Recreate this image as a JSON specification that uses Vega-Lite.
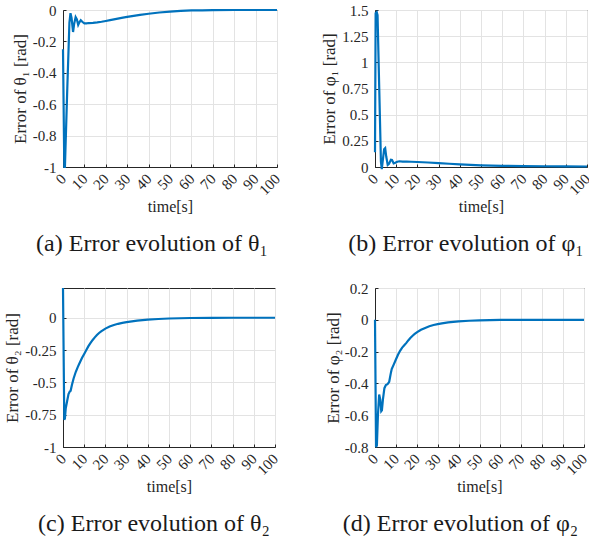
{
  "$schema": "https://vega.github.io/schema/vega-lite/v6.json",
  "background": "white",
  "padding": {"left": 2, "top": 2, "right": 0, "bottom": 0},
  "config": {
    "font": "Liberation Serif",
    "view": {"stroke": "#262626", "strokeWidth": 1},
    "axis": {
      "labelFont": "Liberation Serif", "labelFontSize": 15, "labelColor": "#262626",
      "titleFont": "Liberation Serif", "titleFontSize": 16, "titleFontWeight": "normal", "titleColor": "#262626",
      "domainColor": "#262626", "tickColor": "#262626", "gridColor": "#e3e3e3",
      "tickSize": -3, "labelFlush": false, "labelOverlap": false,
      "labelExpr": "replace(format(datum.value, '~g'), '−', '-')"
    },
    "axisX": {"labelAngle": -45, "labelAlign": "right", "labelBaseline": "middle", "labelPadding": 12, "titleBaseline": "middle", "titleY": 39},
    "axisY": {"labelPadding": 10, "titleBaseline": "middle", "titleAngle": -90, "titleAlign": "center", "titleFontSize": 17},
    "title": {"font": "Liberation Serif", "fontSize": 24, "fontWeight": "normal", "color": "#1a1a1a", "orient": "bottom", "frame": "group", "offset": 18},
    "line": {"color": "#0072BD", "strokeWidth": 2.2, "clip": true}
  },
  "datasets": {
    "theta1": [
      {"t": 0, "e": -0.25}, {"t": 0.6, "e": -1}, {"t": 0.9, "e": -1}, {"t": 2.0, "e": -0.5}, {"t": 3.0, "e": -0.08},
      {"t": 3.5, "e": -0.02}, {"t": 4.0, "e": -0.05}, {"t": 4.7, "e": -0.14}, {"t": 5.2, "e": -0.09}, {"t": 5.9, "e": -0.045},
      {"t": 6.5, "e": -0.06}, {"t": 7.1, "e": -0.095}, {"t": 7.6, "e": -0.08}, {"t": 8.3, "e": -0.065}, {"t": 9.0, "e": -0.075},
      {"t": 10, "e": -0.085}, {"t": 11, "e": -0.085}, {"t": 12, "e": -0.083}, {"t": 14, "e": -0.082}, {"t": 16, "e": -0.079},
      {"t": 18, "e": -0.075}, {"t": 20, "e": -0.07}, {"t": 22, "e": -0.065}, {"t": 25, "e": -0.057}, {"t": 28, "e": -0.049},
      {"t": 30, "e": -0.044}, {"t": 33, "e": -0.037}, {"t": 36, "e": -0.031}, {"t": 40, "e": -0.024}, {"t": 45, "e": -0.016},
      {"t": 50, "e": -0.01}, {"t": 55, "e": -0.006}, {"t": 60, "e": -0.003}, {"t": 65, "e": -0.002}, {"t": 70, "e": -0.001},
      {"t": 80, "e": 0}, {"t": 90, "e": 0}, {"t": 100, "e": 0}
    ],
    "phi1": [
      {"t": 0, "e": 0.14}, {"t": 0.3, "e": 1.47}, {"t": 0.8, "e": 1.48}, {"t": 1.2, "e": 1.45}, {"t": 2.0, "e": 0.75},
      {"t": 2.8, "e": 0.05}, {"t": 3.2, "e": -0.02}, {"t": 3.6, "e": 0.05}, {"t": 4.3, "e": 0.17}, {"t": 4.8, "e": 0.18},
      {"t": 5.3, "e": 0.1}, {"t": 6.0, "e": 0.02}, {"t": 6.6, "e": 0.03}, {"t": 7.5, "e": 0.07}, {"t": 8.0, "e": 0.068},
      {"t": 8.8, "e": 0.035}, {"t": 9.6, "e": 0.04}, {"t": 10.5, "e": 0.05}, {"t": 11.5, "e": 0.055}, {"t": 13, "e": 0.052},
      {"t": 15, "e": 0.052}, {"t": 17, "e": 0.05}, {"t": 20, "e": 0.048}, {"t": 25, "e": 0.043}, {"t": 30, "e": 0.037},
      {"t": 35, "e": 0.031}, {"t": 40, "e": 0.025}, {"t": 45, "e": 0.02}, {"t": 50, "e": 0.016}, {"t": 55, "e": 0.013},
      {"t": 60, "e": 0.011}, {"t": 70, "e": 0.008}, {"t": 80, "e": 0.007}, {"t": 90, "e": 0.006}, {"t": 100, "e": 0.005}
    ],
    "theta2": [
      {"t": 0, "e": 0.23}, {"t": 0.6, "e": -0.79}, {"t": 0.9, "e": -0.78}, {"t": 1.3, "e": -0.7}, {"t": 2, "e": -0.64},
      {"t": 2.6, "e": -0.59}, {"t": 3.2, "e": -0.57}, {"t": 3.6, "e": -0.565}, {"t": 4.2, "e": -0.52}, {"t": 5, "e": -0.47},
      {"t": 6, "e": -0.42}, {"t": 7, "e": -0.38}, {"t": 8, "e": -0.345}, {"t": 9, "e": -0.31}, {"t": 10, "e": -0.28},
      {"t": 11, "e": -0.25}, {"t": 12, "e": -0.22}, {"t": 13, "e": -0.195}, {"t": 14, "e": -0.172}, {"t": 15, "e": -0.152},
      {"t": 16, "e": -0.134}, {"t": 17, "e": -0.118}, {"t": 18, "e": -0.105}, {"t": 20, "e": -0.084}, {"t": 22, "e": -0.068},
      {"t": 24, "e": -0.056}, {"t": 26, "e": -0.047}, {"t": 28, "e": -0.04}, {"t": 30, "e": -0.034}, {"t": 35, "e": -0.023},
      {"t": 40, "e": -0.015}, {"t": 45, "e": -0.01}, {"t": 50, "e": -0.006}, {"t": 55, "e": -0.004}, {"t": 60, "e": -0.002},
      {"t": 70, "e": -0.001}, {"t": 80, "e": 0}, {"t": 90, "e": 0}, {"t": 100, "e": 0}
    ],
    "phi2": [
      {"t": 0, "e": 0}, {"t": 0.5, "e": -0.8}, {"t": 0.9, "e": -0.79}, {"t": 1.4, "e": -0.6}, {"t": 2, "e": -0.47},
      {"t": 2.5, "e": -0.5}, {"t": 3, "e": -0.575}, {"t": 3.3, "e": -0.57}, {"t": 3.8, "e": -0.5}, {"t": 4.5, "e": -0.43},
      {"t": 5.2, "e": -0.41}, {"t": 6, "e": -0.405}, {"t": 6.8, "e": -0.39}, {"t": 7.5, "e": -0.34}, {"t": 8, "e": -0.31},
      {"t": 9, "e": -0.28}, {"t": 10, "e": -0.25}, {"t": 11, "e": -0.22}, {"t": 12, "e": -0.195}, {"t": 13, "e": -0.175},
      {"t": 14, "e": -0.16}, {"t": 15, "e": -0.145}, {"t": 16, "e": -0.128}, {"t": 17, "e": -0.113}, {"t": 18, "e": -0.1},
      {"t": 19, "e": -0.089}, {"t": 20, "e": -0.079}, {"t": 22, "e": -0.063}, {"t": 24, "e": -0.051}, {"t": 26, "e": -0.041},
      {"t": 28, "e": -0.033}, {"t": 30, "e": -0.027}, {"t": 32, "e": -0.022}, {"t": 35, "e": -0.016}, {"t": 40, "e": -0.01},
      {"t": 45, "e": -0.006}, {"t": 50, "e": -0.003}, {"t": 60, "e": -0.001}, {"t": 70, "e": 0}, {"t": 100, "e": 0}
    ]
  },
  "columns": 2,
  "bounds": "flush",
  "align": "none",
  "spacing": {"row": 121, "column": 98},
  "concat": [
    {
      "width": 214, "height": 157,
      "title": {"text": "(a) Error evolution of θ₁", "dx": -18},
      "data": {"name": "theta1"},
      "mark": "line",
      "encoding": {
        "x": {"field": "t", "type": "quantitative", "scale": {"domain": [0, 100], "nice": false},
              "axis": {"values": [0, 10, 20, 30, 40, 50, 60, 70, 80, 90, 100], "title": "time[s]", "titleX": 107}},
        "y": {"field": "e", "type": "quantitative", "scale": {"domain": [-1, 0], "nice": false, "zero": false},
              "axis": {"values": [-1, -0.8, -0.6, -0.4, -0.2, 0], "title": "Error of θ₁ [rad]", "titleX": -43, "titleY": 78.5}}
      }
    },
    {
      "width": 212, "height": 157,
      "title": {"text": "(b) Error evolution of φ₁", "dx": -15},
      "data": {"name": "phi1"},
      "mark": "line",
      "encoding": {
        "x": {"field": "t", "type": "quantitative", "scale": {"domain": [0, 100], "nice": false},
              "axis": {"values": [0, 10, 20, 30, 40, 50, 60, 70, 80, 90, 100], "title": "time[s]", "titleX": 106}},
        "y": {"field": "e", "type": "quantitative", "scale": {"domain": [0, 1.5], "nice": false, "zero": false},
              "axis": {"values": [0, 0.25, 0.5, 0.75, 1, 1.25, 1.5], "title": "Error of φ₁ [rad]", "titleX": -46, "titleY": 78.5}}
      }
    },
    {
      "width": 212, "height": 159,
      "title": {"text": "(c) Error evolution of θ₂", "dx": -15},
      "data": {"name": "theta2"},
      "mark": "line",
      "encoding": {
        "x": {"field": "t", "type": "quantitative", "scale": {"domain": [0, 100], "nice": false},
              "axis": {"values": [0, 10, 20, 30, 40, 50, 60, 70, 80, 90, 100], "title": "time[s]", "titleX": 106}},
        "y": {"field": "e", "type": "quantitative", "scale": {"domain": [-1, 0.23], "nice": false, "zero": false},
              "axis": {"values": [-1, -0.75, -0.5, -0.25, 0], "title": "Error of θ₂ [rad]", "titleX": -51, "titleY": 79.5}}
      }
    },
    {
      "width": 209, "height": 159,
      "title": {"text": "(d) Error evolution of φ₂", "dx": -19},
      "data": {"name": "phi2"},
      "mark": "line",
      "encoding": {
        "x": {"field": "t", "type": "quantitative", "scale": {"domain": [0, 100], "nice": false},
              "axis": {"values": [0, 10, 20, 30, 40, 50, 60, 70, 80, 90, 100], "title": "time[s]", "titleX": 104.5}},
        "y": {"field": "e", "type": "quantitative", "scale": {"domain": [-0.8, 0.2], "nice": false, "zero": false},
              "axis": {"values": [-0.8, -0.6, -0.4, -0.2, 0, 0.2], "title": "Error of φ₂ [rad]", "titleX": -41.5, "titleY": 79.5}}
      }
    }
  ]
}
